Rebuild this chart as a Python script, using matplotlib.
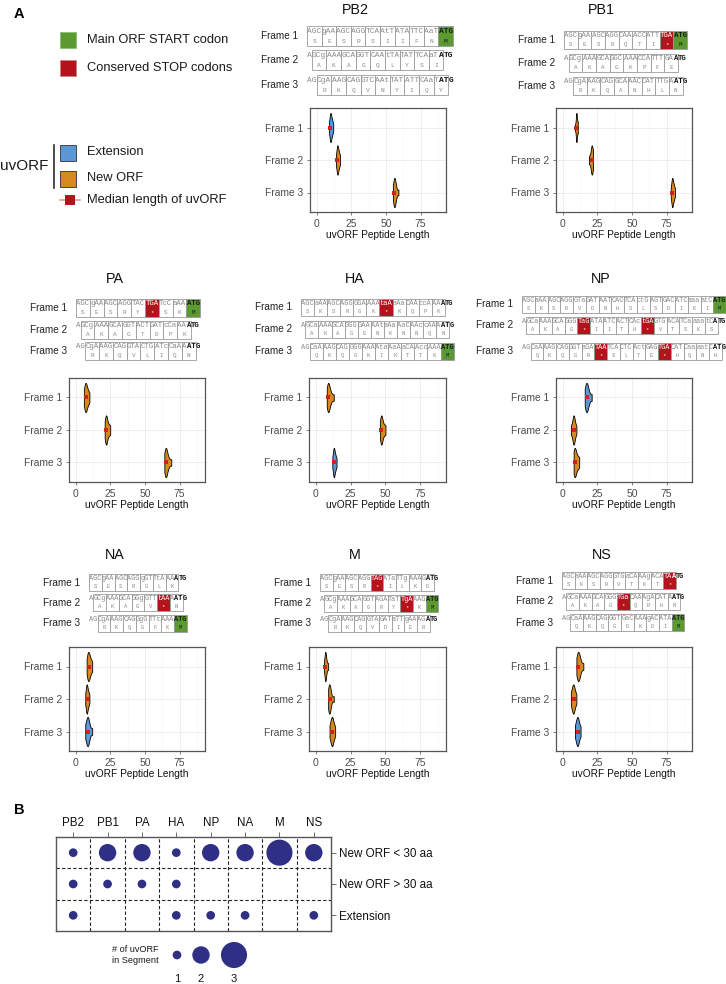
import matplotlib
matplotlib.use("Agg")
import matplotlib.pyplot as plt
from matplotlib.patches import Rectangle
from matplotlib.lines import Line2D
import numpy as np

plt.rcParams['font.family'] = ['Liberation Sans', 'DejaVu Sans']

# ---------------- data ----------------
segments = ["PB2", "PB1", "PA", "HA", "NP", "NA", "M", "NS"]
frame_labels = ["Frame 1", "Frame 2", "Frame 3"]

sequences = [
    "AGCgAAAGCAGGTCAAtTATATTCAaTATG",
    "AGCgAAAGCAGGCAAACCATTTGAATG",
    "AGCgAAAGCAGGTACTGATcCaAAATG",
    "AGCaAAAGCAGGGGAAAAtaAaAaCAAccAAAATG",
    "AGCaAAAGCAGGGTaGATAATCACTCActGAGTGACATCaaaatCATG",
    "AGCgAAAGCAGGgGTTtAAAATG",
    "AGCgAAAGCAGGTAGATaTTgAAAGATG",
    "AGCaAAAGCAGGGTGaCAAAgACATAATG",
]

# uvORF type per frame (E = extension, N = new ORF)
orf_types = [
    ["E", "N", "N"], ["N", "N", "N"], ["N", "N", "N"], ["N", "N", "E"],
    ["E", "N", "N"], ["N", "N", "E"], ["N", "N", "N"], ["N", "N", "E"],
]

# uvORF peptide lengths (per frame)
len_PB2 = [[9, 10, 10, 10, 10, 11, 11, 12], [14, 15, 15, 15, 15, 16, 16, 17], [55, 56, 56, 56, 56, 57, 57, 59]]
len_PB1 = [[9, 10, 10, 10, 10, 10, 11, 11], [19, 20, 21, 21, 21, 21, 22, 22], [78, 79, 79, 79, 79, 80, 80, 81]]
len_PA = [[6, 7, 7, 7, 8, 8, 9, 10], [21, 22, 22, 22, 22, 23, 24, 25], [64, 65, 65, 65, 65, 66, 67, 69]]
len_HA = [[8, 9, 9, 9, 9, 10, 11, 13], [46, 47, 47, 47, 47, 48, 49, 50], [12, 13, 13, 13, 13, 14, 14, 15]]
len_NP = [[16, 17, 17, 17, 18, 18, 19, 21], [6, 7, 8, 8, 8, 8, 9, 10], [8, 8, 9, 9, 9, 10, 11, 12]]
len_NA = [[8, 9, 9, 9, 10, 10, 11, 12], [7, 8, 8, 8, 8, 9, 9, 10], [7, 8, 8, 9, 9, 9, 10, 12]]
len_M = [[6, 7, 7, 7, 7, 7, 8, 9], [9, 9, 10, 10, 10, 10, 11, 13], [10, 11, 11, 12, 12, 12, 13, 14]]
len_NS = [[10, 11, 11, 11, 12, 12, 13, 15], [6, 7, 7, 8, 8, 8, 9, 10], [9, 10, 10, 11, 11, 11, 12, 13]]
lengths = [len_PB2, len_PB1, len_PA, len_HA, len_NP, len_NA, len_M, len_NS]

x_ticks = [0, 25, 50, 75]

# Panel B
bubble_rows = ["New ORF < 30 aa", "New ORF > 30 aa", "Extension"]
new_orf_lt30 = [1, 2, 2, 1, 2, 2, 3, 2]
new_orf_gt30 = [1, 1, 1, 1, 0, 0, 0, 0]
extension = [1, 0, 0, 1, 1, 1, 0, 1]
legend_counts = [1, 2, 3]

# ---------------- style ----------------
GREEN = "#5a9a30"
RED = "#b3141c"
BLUE = "#5d98d6"
ORANGE = "#d6891f"
NAVY = "#2f2f85"
MED = "#d42020"
GREY_TXT = "#8a8a8a"
BOX_EC = "#9a9a9a"

W, H = 726, 984
fig = plt.figure(figsize=(W / 100, H / 100), dpi=100)


def rect(x0, y0, x1, y1):
    return [x0 / W, 1 - y1 / H, (x1 - x0) / W, (y1 - y0) / H]


ov = fig.add_axes([0, 0, 1, 1])
ov.set_xlim(0, W)
ov.set_ylim(H, 0)
ov.axis('off')

# layout (pixel positions)
seq_layout = [
    (307, 4.87, (26, 50, 75), 20),
    (564, 4.56, (31, 54, 77), 18),
    (76, 4.60, (299, 321, 342), 18),
    (301, 4.36, (299, 321, 343), 17),
    (522, 4.25, (296, 317, 343), 16.5),
    (89, 4.25, (574, 594, 615), 17),
    (320, 4.22, (574, 595, 615), 17),
    (562, 4.22, (572, 593, 614), 17),
]
title_xy = [(355, 10), (601, 10), (115, 279), (355, 279), (601, 279),
            (115, 555), (355, 555), (602, 555)]
violin_px = [(310, 108, 446, 212), (556, 108, 692, 212),
             (69, 378, 205, 482), (309, 378, 446, 482), (556, 378, 692, 482),
             (69, 647, 205, 751), (309, 647, 446, 751), (556, 647, 692, 751)]

BASES = "TCAG"
CODE = "FFLLSSSSYY**CC*WLLLLPPPPHHQQRRRRIIIMTTTTNNKKSSRRVVVVAAAADDEEGGGG"


def translate(c):
    c = c.upper()
    return CODE[BASES.index(c[0]) * 16 + BASES.index(c[1]) * 4 + BASES.index(c[2])]


def draw_sequence(seq, x0, w, tops, h):
    n = len(seq)
    fs = w / (0.6 * 100 / 72) * 0.97
    mono = ['Liberation Mono', 'DejaVu Sans Mono']
    atg = n - 3
    for f in range(3):
        top = tops[f]
        ov.text(x0 - 9, top + h / 2, frame_labels[f], ha='right', va='center',
                fontsize=7.2, color='#222222')
        box_fill = {}
        i = f
        while i + 3 <= n:
            cod = seq[i:i + 3]
            aa = translate(cod)
            if aa == '*':
                fc, tc = RED, 'white'
            elif i == atg:
                fc, tc = GREEN, '#1a1a1a'
            else:
                fc, tc = 'white', GREY_TXT
            box_fill[i] = tc
            ov.add_patch(Rectangle((x0 + i * w, top), 3 * w, h, facecolor=fc,
                                   edgecolor=BOX_EC, lw=0.6, zorder=1))
            ov.text(x0 + (i + 1.5) * w, top + h * 0.76, aa, ha='center', va='center',
                    fontsize=fs * 0.8, family=mono, color=tc, zorder=3)
            i += 3
        bounds = sorted(set([0, n, atg] + [k for k in range(f, n + 1, 3)]))
        for a, b in zip(bounds[:-1], bounds[1:]):
            if a >= b:
                continue
            start_box = a - ((a - f) % 3) if a >= f else None
            tc = GREY_TXT
            if start_box is not None and start_box in box_fill:
                tc = box_fill[start_box]
            bold = a >= atg
            if bold and tc == GREY_TXT:
                tc = '#111111'
            ov.text(x0 + (a + b) / 2 * w, top + h * 0.27, seq[a:b], ha='center', va='center',
                    fontsize=fs, family=mono, color=tc,
                    fontweight='bold' if bold else 'normal', zorder=3)


def draw_violin(ax, data, types):
    try:
        parts = ax.violinplot(data, positions=[1, 2, 3], orientation='horizontal', widths=0.9,
                              showextrema=False, bw_method=0.6)
    except TypeError:
        parts = ax.violinplot(data, positions=[1, 2, 3], vert=False, widths=0.9,
                              showextrema=False, bw_method=0.6)
    for body, t in zip(parts['bodies'], types):
        body.set_facecolor(BLUE if t == "E" else ORANGE)
        body.set_edgecolor('black')
        body.set_linewidth(0.6)
        body.set_alpha(1)
        body.set_zorder(2)
    for p, d in zip([1, 2, 3], data):
        ax.plot([np.median(d)], [p], 's', color=MED, ms=2.2, mew=0, zorder=3)
    ax.set_xlim(-4.7, 93.3)
    ax.set_ylim(3.6, 0.4)
    ax.set_xticks(x_ticks)
    ax.set_xticks([12.5, 37.5, 62.5, 87.5], minor=True)
    ax.set_yticks([1, 2, 3])
    ax.set_yticklabels(frame_labels)
    ax.grid(True, which='major', color='#ebebeb', lw=0.6, zorder=0)
    ax.grid(True, which='minor', axis='x', color='#f3f3f3', lw=0.4, zorder=0)
    ax.set_axisbelow(True)
    ax.tick_params(axis='both', which='major', length=2.5, width=0.5, color='#4d4d4d',
                   labelsize=7.4, labelcolor='#4d4d4d', pad=2.5)
    ax.tick_params(axis='both', which='minor', length=0)
    for s in ax.spines.values():
        s.set_color('#555555')
        s.set_linewidth(0.9)
    ax.set_xlabel("uvORF Peptide Length", fontsize=7.3, labelpad=1.0, color='#111111')


for k, seg in enumerate(segments):
    x0, w, tops, h = seq_layout[k]
    draw_sequence(sequences[k], x0, w, tops, h)
    tx, ty = title_xy[k]
    ov.text(tx, ty, seg, ha='center', va='center', fontsize=10.3, color='#111111')
    ax = fig.add_axes(rect(*violin_px[k]))
    draw_violin(ax, lengths[k], orf_types[k])

# ---------------- Panel A legends ----------------
ov.text(14, 14, "A", fontsize=10.5, fontweight='bold', ha='left', va='center')
ov.add_patch(Rectangle((60, 32), 16, 16, facecolor=GREEN, edgecolor='#8cc070', lw=0.6))
ov.add_patch(Rectangle((60, 60), 16, 16, facecolor=RED, edgecolor='#d08080', lw=0.6))
ov.text(87, 40, "Main ORF START codon", fontsize=9.3, va='center', ha='left', color='#1a1a1a')
ov.text(87, 68, "Conserved STOP codons", fontsize=9.3, va='center', ha='left', color='#1a1a1a')

ov.text(48, 166, "uvORF", fontsize=11, va='center', ha='right', color='#1a1a1a')
ov.add_line(Line2D([54, 54], [145, 188], color='#1a1a1a', lw=1.1))
ov.add_patch(Rectangle((60, 145), 16, 16, facecolor=BLUE, edgecolor='#444444', lw=0.7))
ov.add_patch(Rectangle((60, 171), 16, 16, facecolor=ORANGE, edgecolor='#444444', lw=0.7))
ov.text(87, 152, "Extension", fontsize=9.3, va='center', ha='left', color='#1a1a1a')
ov.text(87, 178, "New ORF", fontsize=9.3, va='center', ha='left', color='#1a1a1a')
ov.add_line(Line2D([60, 80], [200, 200], color='#e79a9a', lw=1.2))
ov.plot([70], [200], 's', color=RED, ms=6.5, mew=0)
ov.text(87, 200, "Median length of uvORF", fontsize=9.3, va='center', ha='left', color='#1a1a1a')

# ---------------- Panel B ----------------
ov.text(14, 810, "B", fontsize=10.5, fontweight='bold', ha='left', va='center')


def bubble_size(c):
    d_px = 8.7 * c
    return (d_px * 0.72) ** 2


axb = fig.add_axes(rect(56, 837, 331, 931))
axb.set_xlim(0.5, 8.5)
axb.set_ylim(3.5, 0.5)
for j in range(1, 8):
    axb.axvline(j + 0.5, color='#222222', lw=0.8, ls=(0, (3, 2)))
for j in range(1, 3):
    axb.axhline(j + 0.5, color='#222222', lw=0.8, ls=(0, (3, 2)))
xs = np.arange(1, len(segments) + 1)
for r, counts in enumerate([new_orf_lt30, new_orf_gt30, extension]):
    cnt = np.array(counts)
    m = cnt > 0
    axb.scatter(xs[m], np.full(m.sum(), r + 1), s=[bubble_size(c) for c in cnt[m]],
                color=NAVY, linewidths=0, zorder=3)
axb.xaxis.set_ticks_position('top')
axb.set_xticks(xs)
axb.set_xticklabels(segments)
axb.yaxis.set_ticks_position('right')
axb.set_yticks([1, 2, 3])
axb.set_yticklabels(bubble_rows)
axb.tick_params(axis='both', length=3.5, width=0.6, color='#555555', labelsize=8.4,
                labelcolor='#111111', pad=2)
for s in axb.spines.values():
    s.set_color('#555555')
    s.set_linewidth(1.0)

# bubble legend
ov.text(112, 955, "# of uvORF\nin Segment", fontsize=6.6, ha='left', va='center',
        linespacing=1.3, color='#1a1a1a')
leg_x = [177, 201, 234]
ov.scatter(leg_x, [955] * 3, s=[bubble_size(c) for c in legend_counts], color=NAVY,
           linewidths=0)
for lx, c in zip(leg_x, legend_counts):
    ov.text(lx, 979, str(c), fontsize=8, ha='center', va='center', color='#111111')

fig.savefig("out.png", dpi=100)
